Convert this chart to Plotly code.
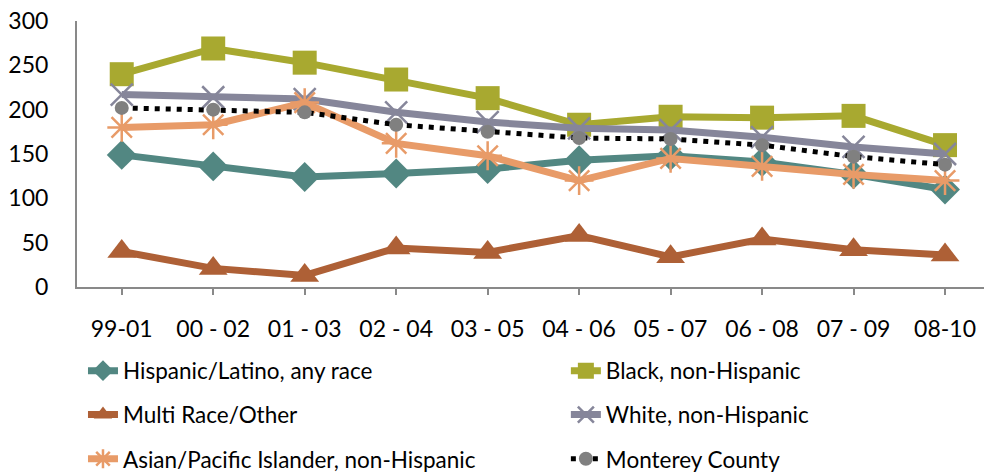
import plotly.graph_objects as go

# Three-year rolling rates by group
periods = ["99-01", "00 - 02", "01 - 03", "02 - 04", "03 - 05",
           "04 - 06", "05 - 07", "06 - 08", "07 - 09", "08-10"]
hispanic = [149, 136, 124, 128, 133, 143, 148, 141, 127, 110]
black = [240, 269, 253, 234, 213, 183, 192, 191, 193, 160]
multi = [40, 21, 13, 44, 39, 58, 34, 54, 42, 36]
white = [217, 214, 212, 197, 186, 179, 177, 169, 158, 150]
asian = [180, 183, 208, 162, 148, 120, 145, 136, 127, 120]
county = [202, 200, 197, 183, 175, 168, 167, 160, 147, 138]

y_ticks = [0, 50, 100, 150, 200, 250, 300]

FONT = "Lato, 'Liberation Sans', Arial, sans-serif"

series = [
    # name, values, colour, symbol, size, legend id
    ("Hispanic/Latino, any race", hispanic, "#528782", "diamond", 23, "legend"),
    ("Black, non-Hispanic", black, "#A8A930", "square", 24, "legend2"),
    ("Multi Race/Other", multi, "#AE6036", "triangle-up", 25, "legend3"),
    ("White, non-Hispanic", white, "#86869A", "x-thin-open", 22, "legend4"),
    ("Asian/Pacific Islander, non-Hispanic", asian, "#E89B68", "asterisk-open", 24, "legend5"),
]

fig = go.Figure()
for name, vals, col, sym, size, leg in series:
    open_sym = sym.endswith("open")
    fig.add_trace(go.Scatter(
        x=periods, y=vals, name=name, mode="lines+markers",
        line=dict(color=col, width=7),
        marker=dict(symbol=sym, size=size, color=col,
                    line=dict(color=col, width=2.5 if open_sym else 0)),
        legend=leg,
    ))

fig.add_trace(go.Scatter(
    x=periods, y=county, name="Monterey County", mode="lines+markers",
    line=dict(color="#000000", width=5, dash="5px,6px"),
    marker=dict(symbol="circle", size=14, color="#808080"),
    legend="legend6",
))

# one legend per entry, laid out as two columns of three rows
col_x = [0.0066, 0.539]
row_y = [-0.316, -0.481, -0.647]
legend_font = dict(family=FONT, size=22.5, color="#000000")
legend_ids = ["legend", "legend2", "legend3", "legend4", "legend5", "legend6"]
legends = {}
for i, lid in enumerate(legend_ids):
    legends[lid] = dict(
        x=col_x[i % 2], y=row_y[i // 2], xanchor="left", yanchor="middle",
        orientation="h", font=legend_font, bgcolor="rgba(0,0,0,0)",
        borderwidth=0, itemclick=False,
    )

fig.update_layout(
    width=984, height=473,
    margin=dict(l=77, r=0, t=21, b=186, autoexpand=False),
    paper_bgcolor="white", plot_bgcolor="white",
    font=dict(family=FONT, size=23, color="#000000"),
    showlegend=True,
    **legends,
)

fig.update_xaxes(
    type="category", range=[-0.489, 9.426],
    showline=True, linecolor="#898989", linewidth=2,
    ticks="outside", ticklen=6, tickcolor="#898989", tickwidth=2,
    showgrid=False, zeroline=False,
    tickfont=dict(family=FONT, size=23, color="#000000"),
    ticklabelstandoff=14,
)
fig.update_yaxes(
    range=[0, 300], tickvals=y_ticks,
    showline=True, linecolor="#898989", linewidth=2,
    ticks="", showgrid=False, zeroline=False,
    tickfont=dict(family=FONT, size=23, color="#000000"),
    ticklabelstandoff=22,
)

fig.write_html("out.html")
